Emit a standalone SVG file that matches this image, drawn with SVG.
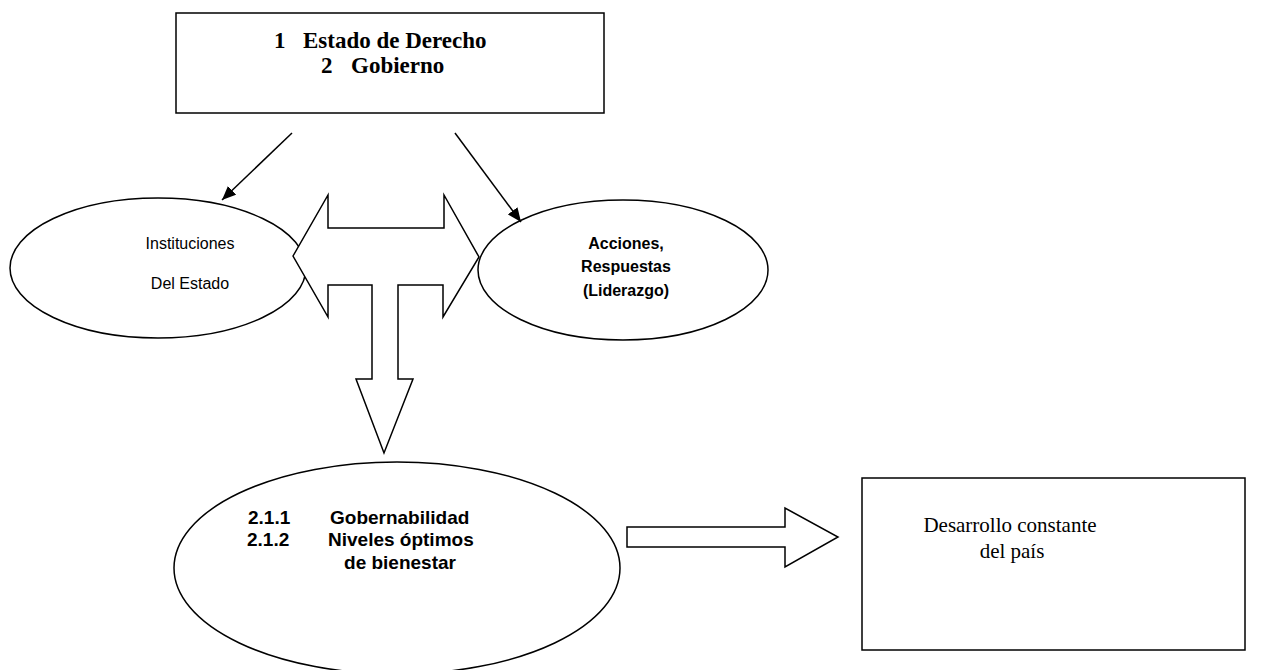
<svg xmlns="http://www.w3.org/2000/svg" width="1266" height="670" viewBox="0 0 1266 670">
<defs>
<marker id="ah" viewBox="0 0 14 12" refX="14" refY="6" markerWidth="14" markerHeight="12" markerUnits="userSpaceOnUse" orient="auto">
<path d="M0,0 L14,6 L0,12 z" fill="#000"/>
</marker>
<style>
.s{fill:#fff;stroke:#000;stroke-width:1.5}
.serifb{font-family:"Liberation Serif",serif;font-weight:bold;font-size:23px;fill:#000}
.serif{font-family:"Liberation Serif",serif;font-size:21px;fill:#000}
.sans{font-family:"Liberation Sans",Arial,sans-serif;font-size:16px;fill:#000}
.sansb{font-family:"Liberation Sans",Arial,sans-serif;font-size:16px;font-weight:bold;fill:#000}
.sansb19{font-family:"Liberation Sans",Arial,sans-serif;font-size:19px;font-weight:bold;fill:#000}
.ln{stroke:#000;stroke-width:1.5;fill:none}
</style>
</defs>
<rect width="1266" height="670" fill="#fff"/>
<g id="top-box">
<rect class="s" x="176" y="13" width="428" height="100"/>
<text class="serifb" x="274" y="48">1</text>
<text class="serifb" x="303" y="48">Estado de Derecho</text>
<text class="serifb" x="321" y="73">2</text>
<text class="serifb" x="351" y="73">Gobierno</text>
</g>
<g id="instituciones">
<ellipse class="s" cx="158" cy="268" rx="148" ry="70"/>
<text class="sans" x="190" y="249" text-anchor="middle">Instituciones</text>
<text class="sans" x="190" y="289" text-anchor="middle">Del Estado</text>
</g>
<g id="acciones">
<ellipse class="s" cx="623" cy="270" rx="145" ry="70"/>
<text class="sansb" x="626" y="249" text-anchor="middle">Acciones,</text>
<text class="sansb" x="626" y="272" text-anchor="middle">Respuestas</text>
<text class="sansb" x="626" y="296" text-anchor="middle">(Liderazgo)</text>
</g>
<g id="gobernabilidad">
<ellipse class="s" cx="397" cy="568" rx="223" ry="106"/>
<text class="sansb19" x="248" y="524">2.1.1</text>
<text class="sansb19" x="330" y="524">Gobernabilidad</text>
<text class="sansb19" x="247" y="546">2.1.2</text>
<text class="sansb19" x="328" y="546">Niveles óptimos</text>
<text class="sansb19" x="400" y="569" text-anchor="middle">de bienestar</text>
</g>
<g id="desarrollo">
<rect class="s" x="862" y="478" width="383" height="172"/>
<text class="serif" x="1010" y="532" text-anchor="middle">Desarrollo constante</text>
<text class="serif" x="1012" y="558" text-anchor="middle">del país</text>
</g>
<g id="connectors">
<line class="ln" x1="292" y1="133" x2="222" y2="200" marker-end="url(#ah)"/>
<line class="ln" x1="455" y1="133" x2="521" y2="222" marker-end="url(#ah)"/>
<path class="s" d="M293,256 L328,195 L328,228 L444,228 L444,195 L479,257 L443,317 L443,285 L398,285 L398,379 L413,379 L384,453 L356,379 L372,379 L372,285 L328,285 L328,317 Z"/>
<path class="s" d="M627,527 L785,527 L785,508 L838,537 L785,567 L785,547 L627,547 Z"/>
</g>
</svg>
